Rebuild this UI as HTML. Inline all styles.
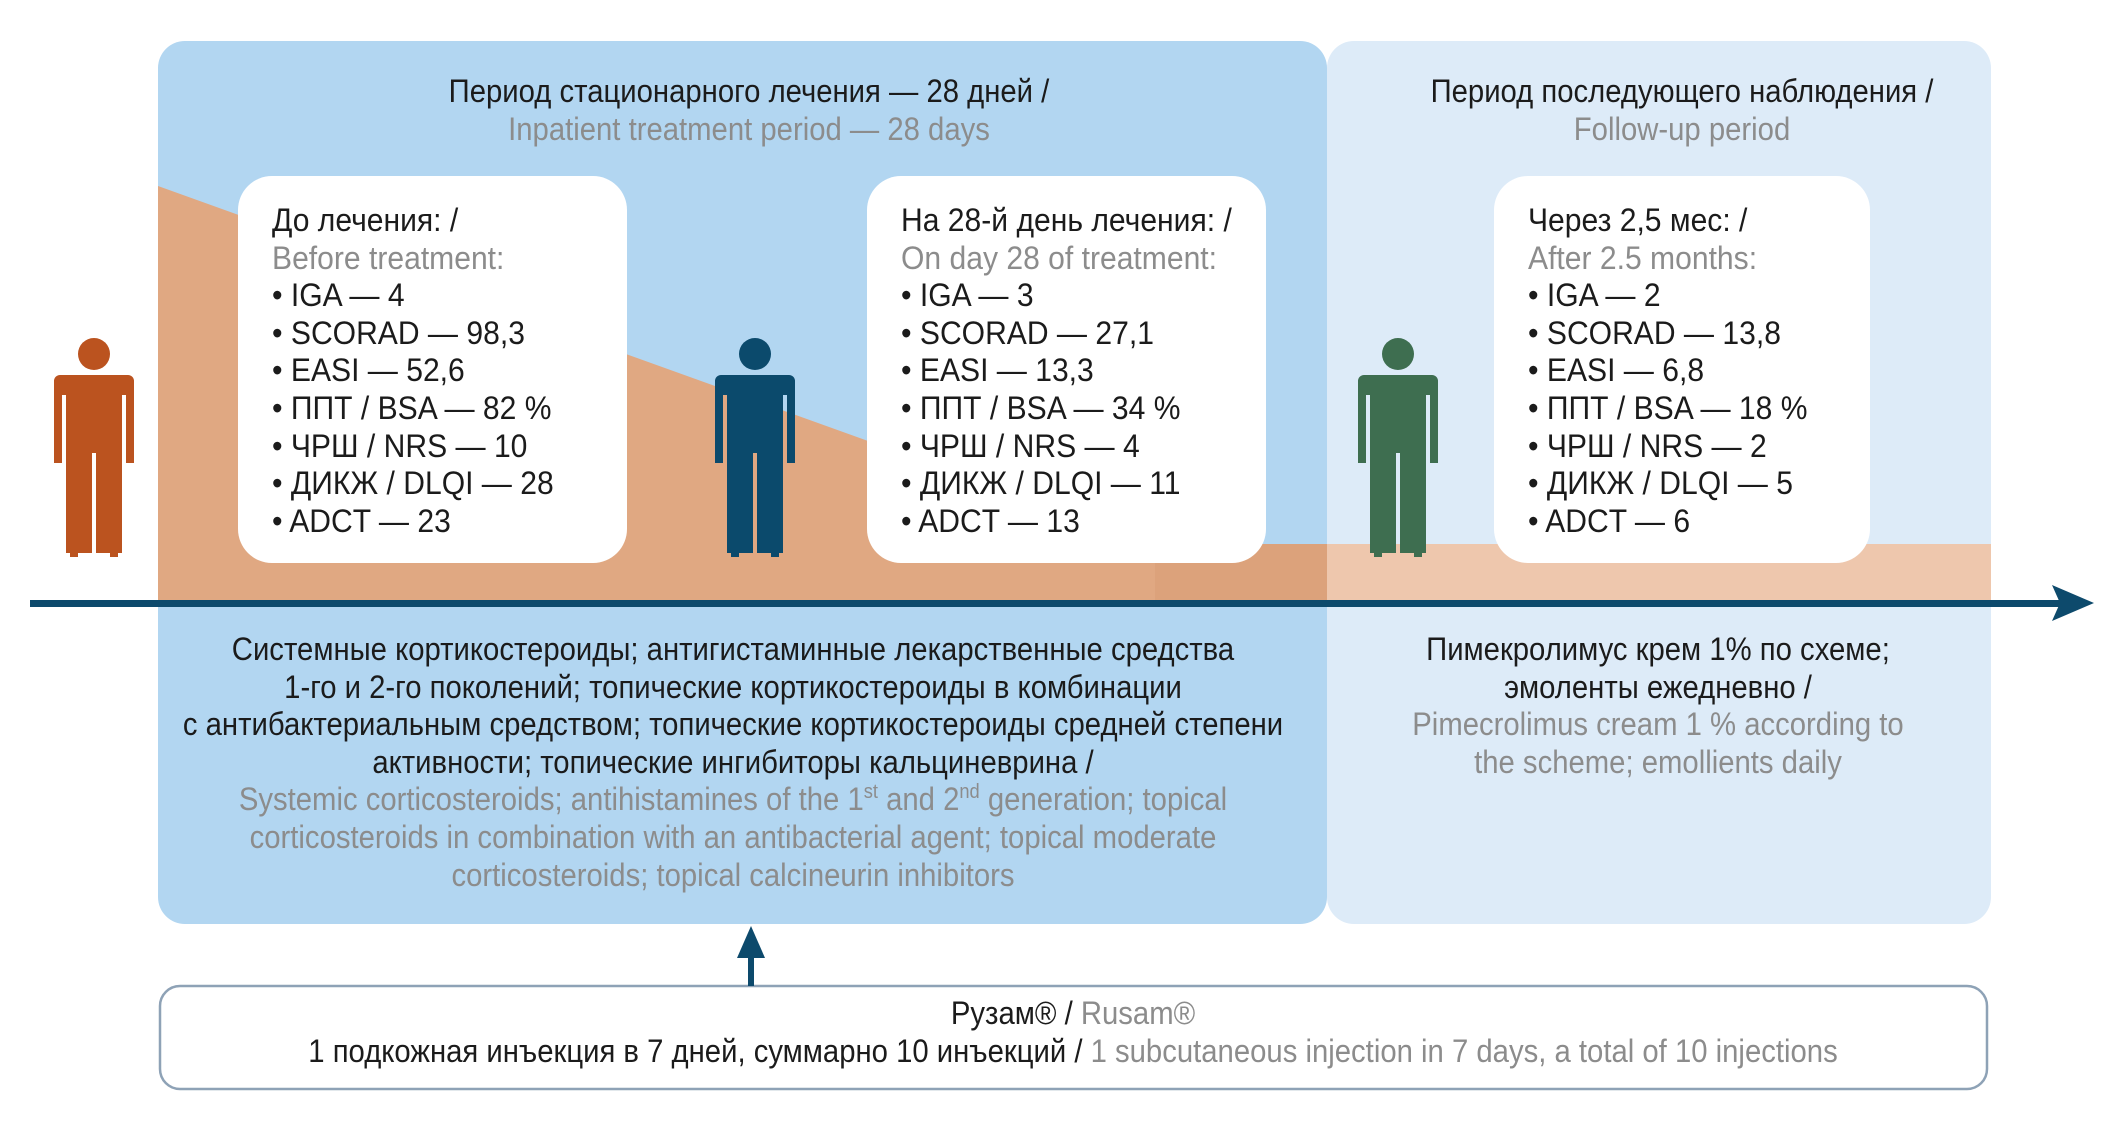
<!DOCTYPE html>
<html><head><meta charset="utf-8">
<style>
body{margin:0;width:2118px;height:1124px;background:#fff;position:relative;overflow:hidden;font-family:"Liberation Sans","DejaVu Sans",sans-serif;}
svg{position:absolute;left:0;top:0}
.t{position:absolute;font-size:32px;line-height:37.6px;color:#1b1b1b;white-space:nowrap}
.g{color:#8c8c8c}
.c{text-align:center;transform:scaleX(0.915);transform-origin:center top}
.l{transform:scaleX(0.94);transform-origin:left top}
sup{font-size:20px;line-height:0;vertical-align:12px}
</style></head><body>
<svg width="2118" height="1124" viewBox="0 0 2118 1124">
<defs>
<clipPath id="cl"><rect x="158" y="41" width="1169" height="883" rx="27"/></clipPath>
<g id="man">
<circle cx="0" cy="17" r="16"/>
<path d="M-34 38 H34 A6 6 0 0 1 40 44 V126 H32 V58 H28 V216 H24 V220 H16 V216 H2 V116 H-2 V216 H-16 V220 H-24 V216 H-28 V58 H-32 V126 H-40 V44 A6 6 0 0 1 -34 38 Z"/>
</g>
</defs>
<rect x="1327" y="41" width="664" height="883" rx="27" fill="#ddebf8"/>
<rect x="158" y="41" width="1169" height="883" rx="27" fill="#b2d6f1"/>
<g clip-path="url(#cl)">
<polygon points="158,186 1155,544 1327,544 1327,603 158,603" fill="#e0a882"/>
<rect x="1155" y="544" width="172" height="59" fill="#dca27b"/>
</g>
<rect x="1327" y="544" width="664" height="59" fill="#eec7ad"/>
<rect x="238" y="176" width="389" height="387" rx="34" fill="#fff"/>
<rect x="867" y="176" width="399" height="387" rx="34" fill="#fff"/>
<rect x="1494" y="176" width="376" height="387" rx="34" fill="#fff"/>
<use href="#man" x="94" y="337" fill="#bb531f"/>
<use href="#man" x="755" y="337" fill="#0b4a6c"/>
<use href="#man" x="1398" y="337" fill="#3e6e50"/>
<rect x="30" y="600" width="2030" height="7" fill="#0d4a6c"/>
<polygon points="2052,585 2094,603 2052,621 2060,603" fill="#0d4a6c"/>
<rect x="160" y="986" width="1827" height="103" rx="20" fill="#fff" stroke="#8ea2b6" stroke-width="2.5"/>
<rect x="748" y="950" width="6" height="36" fill="#0d4a6c"/>
<polygon points="751,926 737,958 765,958" fill="#0d4a6c"/>
</svg>

<div class="t c" style="left:349px;width:800px;top:73px">Период стационарного лечения — 28 дней /<br><span class="g">Inpatient treatment period — 28 days</span></div>
<div class="t c" style="left:1282px;width:800px;top:73px">Период последующего наблюдения /<br><span class="g">Follow-up period</span></div>

<div class="t l" style="left:272px;top:202px">До лечения: /<br><span class="g">Before treatment:</span><br>• IGA — 4<br>• SCORAD — 98,3<br>• EASI — 52,6<br>• ППТ / BSA — 82 %<br>• ЧРШ / NRS — 10<br>• ДИКЖ / DLQI — 28<br>• ADCT — 23</div>
<div class="t l" style="left:901px;top:202px">На 28-й день лечения: /<br><span class="g">On day 28 of treatment:</span><br>• IGA — 3<br>• SCORAD — 27,1<br>• EASI — 13,3<br>• ППТ / BSA — 34 %<br>• ЧРШ / NRS — 4<br>• ДИКЖ / DLQI — 11<br>• ADCT — 13</div>
<div class="t l" style="left:1528px;top:202px">Через 2,5 мес: /<br><span class="g">After 2.5 months:</span><br>• IGA — 2<br>• SCORAD — 13,8<br>• EASI — 6,8<br>• ППТ / BSA — 18 %<br>• ЧРШ / NRS — 2<br>• ДИКЖ / DLQI — 5<br>• ADCT — 6</div>

<div class="t c" style="left:-67px;width:1600px;top:631px">Системные кортикостероиды; антигистаминные лекарственные средства<br>1-го и 2-го поколений; топические кортикостероиды в комбинации<br>с антибактериальным средством; топические кортикостероиды средней степени<br>активности; топические ингибиторы кальциневрина /<br><span class="g">Systemic corticosteroids; antihistamines of the 1<sup>st</sup> and 2<sup>nd</sup> generation; topical<br>corticosteroids in combination with an antibacterial agent; topical moderate<br>corticosteroids; topical calcineurin inhibitors</span></div>
<div class="t c" style="left:1258px;width:800px;top:631px">Пимекролимус крем 1% по схеме;<br>эмоленты ежедневно /<br><span class="g">Pimecrolimus cream 1 % according to<br>the scheme; emollients daily</span></div>

<div class="t c" style="left:73px;width:2000px;top:995px">Рузам® / <span class="g">Rusam®</span><br>1 подкожная инъекция в 7 дней, суммарно 10 инъекций / <span class="g">1 subcutaneous injection in 7 days, a total of 10 injections</span></div>
</body></html>
